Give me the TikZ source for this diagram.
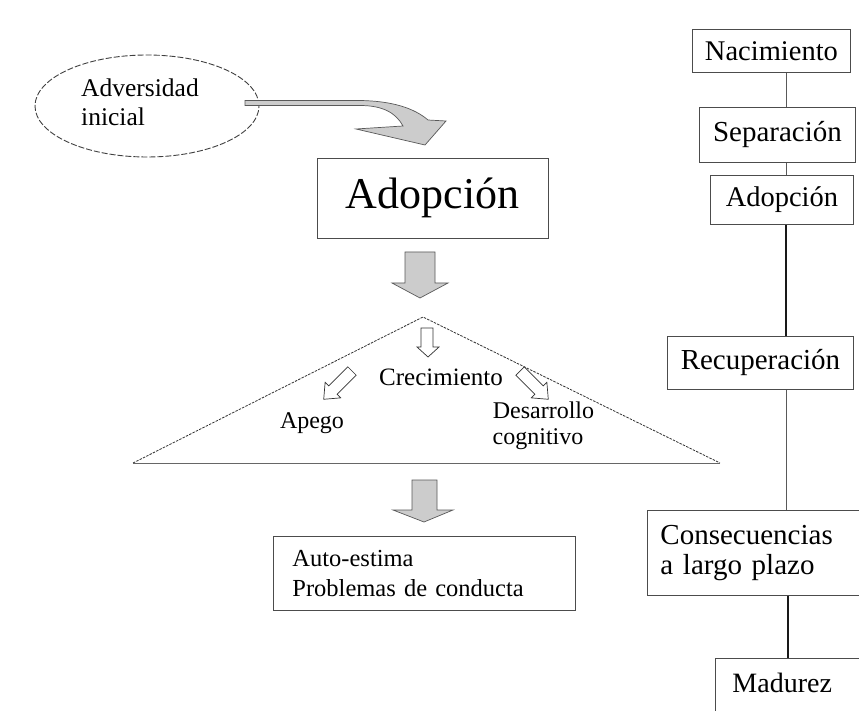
\documentclass[tikz,border=0pt]{standalone}
\usepackage{fontspec}
\setmainfont{Liberation Serif}
\usetikzlibrary{shapes.geometric}
\newcommand\setsz[2]{\fontsize{#1}{#2}\selectfont}
\begin{document}
\begin{tikzpicture}[x=1pt,y=-1pt,
  box/.style={draw=black!70, line width=0.9pt, inner sep=0pt, text=black},
  lbl/.style={inner sep=0pt, text=black},
  thinlink/.style={draw=black!65, line width=0.9pt},
  thicklink/.style={draw=black!90, line width=1.4pt},
  dashside/.style={draw=black!80, line width=0.8pt, dash pattern=on 2.5pt off 1.2pt},
  fatarrow/.style={fill=black!20, draw=black!65, line width=0.7pt, line join=miter},
  hollowarrow/.style={fill=white, draw=black!80, line width=0.7pt, line join=miter},
]
\clip (0,0) rectangle (859,711);
\fill[white] (0,0) rectangle (859,711);

% ---------- left part ----------
% dashed ellipse with its label
\node[ellipse, draw=black!75, line width=0.9pt, dash pattern=on 6pt off 2pt,
      minimum width=224pt, minimum height=102pt, inner sep=0pt] (adv) at (147,106) {};
\node[lbl, anchor=base west, align=left, font=\setsz{25.5}{29}] (advtxt) at (81,126)
  {Adversidad\\inicial};

% curved shaded arrow from the ellipse down to the adoption box
\path[fatarrow]
  (245,100.5) -- (360,100.5)
  .. controls (392,101) and (414,108) .. (428,120)
  -- (446,121) -- (425,145) -- (356,129) -- (403,126)
  .. controls (396,113) and (383,105.5) .. (360,105.5)
  -- (245,105.5) -- cycle;

% main adoption box
\node[box, minimum width=231pt, minimum height=80pt, font=\setsz{44}{48}] (adop) at (432.5,198) {Adopción};

% block arrow below the adoption box
\path[fatarrow] (405,252) -- (435,252) -- (435,283) -- (448,283) -- (420,298)
  -- (392,283) -- (405,283) -- cycle;

% triangle
\coordinate (apex) at (423,317);
\coordinate (tl) at (133,463);
\coordinate (tr) at (720,463);
\draw[dashside] (tl) -- (apex) -- (tr);
\draw[draw=black!60, line width=1pt] (tl) -- (tr);

% small hollow arrows inside the triangle
\path[hollowarrow] (421,328) -- (433,328) -- (433,347) -- (439,347) -- (428,357)
  -- (417,347) -- (421,347) -- cycle;
\begin{scope}[shift={(352,371)}, rotate=225]
  \path[hollowarrow] (0,-6) -- (27,-6) -- (27,-11) -- (40,0) -- (27,11) -- (27,6) -- (0,6) -- cycle;
\end{scope}
\begin{scope}[shift={(520,371)}, rotate=315]
  \path[hollowarrow] (0,-6) -- (27,-6) -- (27,-11) -- (40,0) -- (27,11) -- (27,6) -- (0,6) -- cycle;
\end{scope}

\node[lbl, anchor=base, font=\setsz{25}{28}] (crec) at (441,385) {Crecimiento};
\node[lbl, anchor=base, font=\setsz{24}{28}] (apego) at (312,428) {Apego};
\node[lbl, anchor=base, font=\setsz{24}{28}] (desa) at (543.5,418) {Desarrollo};
\node[lbl, anchor=base, font=\setsz{24}{28}] (cogn) at (538,444) {cognitivo};

% block arrow below the triangle
\path[fatarrow] (412,480) -- (437,480) -- (437,510) -- (453,510) -- (424,522)
  -- (393,510) -- (412,510) -- cycle;

% outcomes box
\node[box, anchor=north west, minimum height=74pt, text width=264pt, inner xsep=19pt,
      align=left, font=\setsz{24.5}{30}] (outc) at (273,536)
  {Auto-estima\\Problemas de conducta};

% ---------- right column: life line ----------
\node[box, anchor=north west, minimum width=158pt, minimum height=43pt, font=\setsz{28.5}{30}] (nac) at (692,29) {Nacimiento};
\node[box, anchor=north west, minimum width=156pt, minimum height=55pt, font=\setsz{29}{30}] (sep) at (699,107) {Separación};
\node[box, anchor=north west, minimum width=143pt, minimum height=49pt, font=\setsz{28.5}{30}] (adr) at (710,175) {Adopción};
\node[box, anchor=north west, minimum width=186pt, minimum height=53pt, font=\setsz{29}{30}] (rec) at (667,336) {Recuperación};
\node[box, anchor=north west, minimum height=85pt, text width=220pt, inner xsep=13pt,
      align=left, font=\setsz{29}{30}] (cons) at (647,510) {Consecuencias\\a largo plazo};
\node[box, anchor=north west, minimum height=80pt, text width=150pt, inner xsep=17pt,
      align=left, text height=18pt, text depth=30pt, font=\setsz{28}{30}] (mad) at (715,658) {Madurez};

\coordinate (sx) at (786,0);
\draw[thinlink] (nac.south -| sx) -- (sep.north -| sx);
\draw[thinlink] (sep.south -| sx) -- (adr.north -| sx);
\draw[thicklink] (adr.south -| sx) -- (rec.north -| sx);
\draw[thinlink] (rec.south -| sx) -- (cons.north -| sx);
\draw[thicklink] ([xshift=2pt]cons.south -| sx) -- ([xshift=2pt]mad.north -| sx);
\end{tikzpicture}
\end{document}
